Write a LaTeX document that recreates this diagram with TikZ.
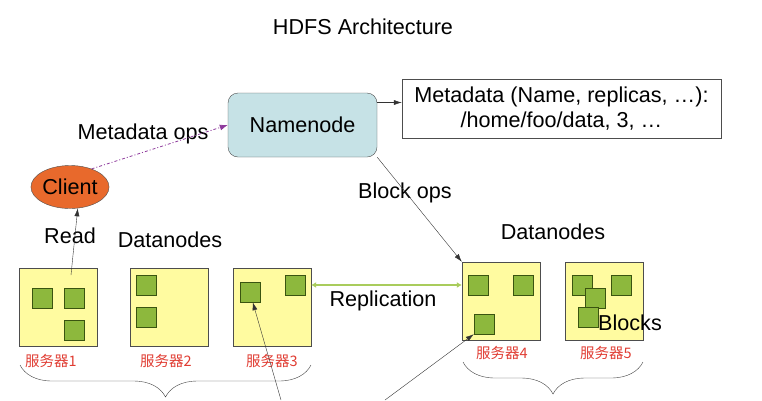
\documentclass[tikz,border=0pt]{standalone}
\usepackage{fontspec}
\setmainfont{Liberation Sans}
\newfontfamily\cjk{Noto Sans CJK SC}
\usepackage[HTML]{xcolor}
\usetikzlibrary{positioning, arrows.meta, shapes.geometric, decorations.pathreplacing}

\definecolor{srvfill}{HTML}{FFFBA0}
\definecolor{blkfill}{HTML}{8DB83D}
\definecolor{blkline}{HTML}{3A5410}
\definecolor{nnfill}{HTML}{C6E2E6}
\definecolor{clfill}{HTML}{E8692C}
\definecolor{lblred}{HTML}{E03C32}
\definecolor{replgreen}{HTML}{A9CC5C}
\definecolor{metapurple}{HTML}{8E3A9C}

\begin{document}
\begin{tikzpicture}[
  x=1pt, y=-1pt,
  every node/.style={align=center, font=\fontsize{21.6}{25}\selectfont},
  server/.style={draw=black!70, fill=srvfill, minimum width=78pt, minimum height=78pt, inner sep=0pt},
  blk/.style={draw=blkline, fill=blkfill, minimum size=20pt, inner sep=0pt},
  srvlbl/.style={text=lblred, font=\cjk\fontsize{14.5}{16}\selectfont},
  arrow/.style={-{Latex[length=8pt,width=5pt]}, black!80},
  brc/.style={decorate, decoration={brace, mirror, amplitude=32pt}, black!75}
  ]

\useasboundingbox (0,0) rectangle (762,400);

\node (title) at (363,27) {HDFS Architecture};
\node[draw=black!70, fill=nnfill, rounded corners=10pt, minimum width=149pt, minimum height=64pt] (nn) at (302.5,125) {Namenode};
\node[draw=black!70, minimum width=319pt, minimum height=59pt, inner sep=0pt] (md) at (561.5,108.5) {Metadata (Name, replicas, \dots):\\/home/foo/data, 3, \dots};
\node[ellipse, draw=black!70, fill=clfill, minimum width=78pt, minimum height=43pt, inner sep=0pt] (cl) at (70,187) {Client};

% servers
\node[server] (s1) at (58,307) {};
\node[server] (s2) at (169,307) {};
\node[server] (s3) at (272,307) {};
\node[server] (s4) at (501,301) {};
\node[server] (s5) at (604,301) {};

% blocks
\node[blk] (b11) at (42,298) {};
\node[blk] (b12) at (74,298) {};
\node[blk] (b13) at (74,330) {};
\node[blk] (b21) at (146,285) {};
\node[blk] (b22) at (146,317) {};
\node[blk] (b31) at (250,292) {};
\node[blk] (b32) at (295,285) {};
\node[blk] (b41) at (478,285) {};
\node[blk] (b42) at (523,285) {};
\node[blk] (b43) at (484,324) {};
\node[blk] (b51) at (582,285) {};
\node[blk] (b52) at (595,298) {};
\node[blk] (b53) at (588,317) {};
\node[blk] (b54) at (621,285) {};

\node[srvlbl] (l1) at (51,361) {服务器1};
\node[srvlbl] (l2) at (166,361) {服务器2};
\node[srvlbl] (l3) at (272,361) {服务器3};
\node[srvlbl] (l4) at (502,353) {服务器4};
\node[srvlbl] (l5) at (606,353) {服务器5};

\node (blocks) at (630,323) {Blocks};
\node (dnl) at (170,240) {Datanodes};
\node (dnr) at (553,232) {Datanodes};
\node (read) at (70,236) {Read};
\node (mops) at (143,134) {Metadata ops};
\node (bops) at (405,193) {Block ops};
\node (repl) at (383,301) {Replication};

\coordinate (rd) at (71,275);
\coordinate (in3) at (281,400);
\coordinate (in4) at (385,400);

\draw[arrow] ([yshift=6pt]md.west -| nn.east) -- ([yshift=6pt]md.west);
\draw[-{Latex[length=8pt,width=6pt]}, metapurple, thick, dash pattern=on 3pt off 2pt on 1pt off 2pt] (cl.40) -- (nn.west);
\draw[arrow] (nn.south east) -- (s4.north west);
\draw[arrow] (rd) -- (cl.-70);
\draw[{Latex[length=5pt,width=6pt]}-{Latex[length=5pt,width=6pt]}, replgreen, line width=1.6pt] (s3.east |- b32) -- (s4.west |- b41);
\draw[arrow] (in3) -- (b31.-75);
\draw[arrow] (in4) -- (b43.south west);

\draw[brc] (20,365) -- (311,365);
\draw[brc] (463,362) -- (643,362);
\end{tikzpicture}
\end{document}
